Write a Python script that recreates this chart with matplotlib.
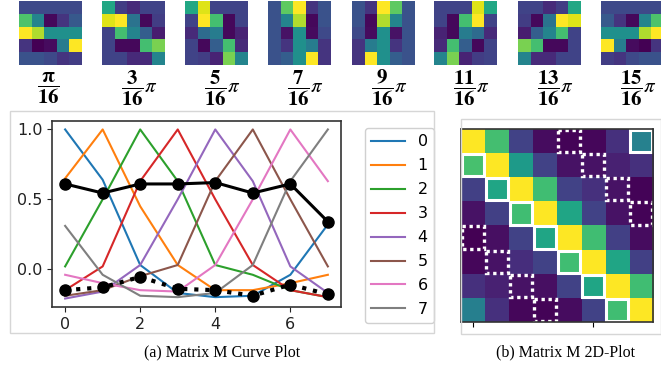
import numpy as np
import matplotlib
matplotlib.use("Agg")
import matplotlib.pyplot as plt
from matplotlib.patches import Rectangle

plt.rcParams['mathtext.fontset'] = 'stix'

W, H = 661, 367

# ---------------- data ----------------
x_idx = [0, 1, 2, 3, 4, 5, 6, 7]
series_labels = ['0', '1', '2', '3', '4', '5', '6', '7']
M = [
    [1.00, 0.64, 0.03, -0.17, -0.20, -0.19, -0.04, 0.32],
    [0.65, 1.00, 0.45, 0.03, -0.15, -0.15, -0.10, -0.04],
    [0.02, 0.50, 1.00, 0.63, 0.03, -0.04, -0.15, -0.20],
    [-0.15, 0.02, 0.63, 1.00, 0.50, 0.03, -0.15, -0.20],
    [-0.21, -0.16, 0.03, 0.50, 1.00, 0.63, 0.02, -0.17],
    [-0.19, -0.15, -0.05, 0.03, 0.63, 1.00, 0.50, 0.02],
    [-0.04, -0.10, -0.15, -0.16, 0.03, 0.50, 1.00, 0.63],
    [0.31, -0.04, -0.19, -0.20, -0.17, 0.03, 0.63, 1.00],
]
black_solid = [0.61, 0.545, 0.61, 0.61, 0.62, 0.545, 0.61, 0.34]
black_dotted = [-0.15, -0.13, -0.055, -0.14, -0.15, -0.19, -0.11, -0.18]

solid_cells = [(0, 7), (1, 0), (2, 1), (3, 2), (4, 3), (5, 4), (6, 5), (7, 6)]
dotted_cells = [(0, 4), (1, 5), (2, 6), (3, 7), (4, 0), (5, 1), (6, 2), (7, 3)]

thumb_labels = [r'$\dfrac{\mathbf{\pi}}{\mathbf{16}}$',
                r'$\dfrac{\mathbf{3}}{\mathbf{16}}\pi$',
                r'$\dfrac{\mathbf{5}}{\mathbf{16}}\pi$',
                r'$\dfrac{\mathbf{7}}{\mathbf{16}}\pi$',
                r'$\dfrac{\mathbf{9}}{\mathbf{16}}\pi$',
                r'$\dfrac{\mathbf{11}}{\mathbf{16}}\pi$',
                r'$\dfrac{\mathbf{13}}{\mathbf{16}}\pi$',
                r'$\dfrac{\mathbf{15}}{\mathbf{16}}\pi$']
thumbs = [
    [[0.22, 0.22, 0.22, 0.22, 0.22],
     [0.72, 0.45, 0.02, 0.15, 0.28],
     [1.00, 0.88, 0.50, 0.50, 0.50],
     [0.15, 0.00, 0.03, 0.42, 1.00],
     [0.25, 0.25, 0.22, 0.15, 0.18]],
    [[0.60, 0.18, 0.12, 0.20, 0.20],
     [0.95, 1.00, 0.38, 0.02, 0.18],
     [0.20, 0.70, 0.45, 0.30, 0.08],
     [0.20, 0.02, 0.02, 0.70, 0.80],
     [0.20, 0.20, 0.12, 0.12, 0.45]],
    [[0.60, 0.95, 0.20, 0.20, 0.20],
     [0.20, 1.00, 0.70, 0.02, 0.20],
     [0.12, 0.35, 0.42, 0.02, 0.10],
     [0.20, 0.02, 0.30, 0.70, 0.12],
     [0.20, 0.18, 0.10, 0.80, 0.45]],
    [[0.25, 0.75, 1.00, 0.15, 0.25],
     [0.25, 0.45, 0.88, 0.02, 0.25],
     [0.25, 0.05, 0.50, 0.03, 0.22],
     [0.25, 0.15, 0.50, 0.42, 0.15],
     [0.25, 0.30, 0.50, 1.00, 0.15]],
    [[0.25, 0.15, 1.00, 0.75, 0.25],
     [0.25, 0.02, 0.88, 0.45, 0.25],
     [0.22, 0.03, 0.50, 0.05, 0.25],
     [0.15, 0.42, 0.50, 0.15, 0.25],
     [0.15, 1.00, 0.50, 0.30, 0.25]],
    [[0.20, 0.20, 0.20, 0.95, 0.60],
     [0.20, 0.02, 0.70, 1.00, 0.20],
     [0.10, 0.02, 0.42, 0.35, 0.12],
     [0.12, 0.70, 0.30, 0.02, 0.20],
     [0.45, 0.80, 0.10, 0.18, 0.20]],
    [[0.20, 0.20, 0.12, 0.18, 0.60],
     [0.18, 0.02, 0.38, 1.00, 0.95],
     [0.08, 0.30, 0.45, 0.70, 0.20],
     [0.80, 0.70, 0.02, 0.02, 0.20],
     [0.45, 0.12, 0.12, 0.20, 0.20]],
    [[0.22, 0.22, 0.22, 0.22, 0.22],
     [0.28, 0.15, 0.02, 0.45, 0.72],
     [0.50, 0.50, 0.50, 0.88, 1.00],
     [1.00, 0.42, 0.03, 0.00, 0.15],
     [0.18, 0.15, 0.22, 0.25, 0.25]],
]
caption_a = '(a) Matrix M Curve Plot'
caption_b = '(b) Matrix M 2D-Plot'

# ---------------- figure ----------------
fig = plt.figure(figsize=(W / 100, H / 100), dpi=100)


def ax_px(x0, y0, x1, y1):
    return fig.add_axes([x0 / W, 1 - y1 / H, (x1 - x0) / W, (y1 - y0) / H])


def frame_px(x0, y0, x1, y1, color='#d6d6d6'):
    fig.add_artist(Rectangle((x0 / W, 1 - y1 / H), (x1 - x0) / W, (y1 - y0) / H,
                             transform=fig.transFigure, fill=False, ec=color, lw=1))


# thumbnails
thumb_x0 = [19, 102, 185, 268, 352, 434, 518, 601]
for k, (tx, mat, lab) in enumerate(zip(thumb_x0, thumbs, thumb_labels)):
    a = ax_px(tx, 1, tx + 63, 65)
    a.imshow(np.array(mat), cmap='viridis', vmin=0, vmax=1, aspect='auto',
             interpolation='nearest')
    a.axis('off')
    cx = tx + 29 if k == 0 else tx + 37
    fig.text(cx / W, 1 - 88 / H, lab, ha='center', va='center', fontsize=15)

# frames
frame_px(10, 111, 434, 333)
frame_px(461, 119, 661, 334)

# line plot
ax = ax_px(52, 121, 341, 307)
colors = ['C%d' % i for i in range(8)]
for i in range(8):
    ax.plot(x_idx, M[i], color=colors[i], lw=1.5, label=series_labels[i])
ax.plot(x_idx, black_solid, color='black', lw=2.2, marker='o', ms=8)
ax.plot(x_idx, black_dotted, color='black', lw=3, ls=':', marker='o', ms=8)
ax.set_xticks([0, 2, 4, 6])
ax.set_yticks([0.0, 0.5, 1.0])
ax.set_yticklabels(['0.0', '0.5', '1.0'])
ax.tick_params(labelsize=11.5, colors='#222222')
for s in ax.spines.values():
    s.set_color('#333333')
    s.set_linewidth(1.2)
ax.legend(loc='upper left', bbox_to_anchor=(365 / W, 1 - 128 / H),
          bbox_transform=fig.transFigure, fontsize=11.5, handlelength=2.1,
          labelspacing=0.56, borderaxespad=0, framealpha=1, edgecolor='#d0d0d0')

# heatmap
hx = ax_px(461, 129, 653, 322)
hx.imshow(np.array(M), cmap='viridis', aspect='auto', interpolation='nearest')
for (r, c) in solid_cells:
    hx.add_patch(Rectangle((c - 0.46, r - 0.46), 0.92, 0.92, fill=False,
                           ec='white', lw=2.2))
for (r, c) in dotted_cells:
    hx.add_patch(Rectangle((c - 0.46, r - 0.46), 0.92, 0.92, fill=False,
                           ec='white', lw=2.4, ls=(0, (1, 1.1))))
hx.set_xticks([0, 5])
hx.set_xticklabels(['', ''])
hx.set_yticks([])
hx.set_xlim(-0.5, 7.5)
hx.set_ylim(7.5, -0.5)
for s in hx.spines.values():
    s.set_color('#333333')
    s.set_linewidth(1.2)

# captions
fig.text(222 / W, 1 - 352 / H, caption_a, ha='center', va='center',
         fontsize=11.5, family='Liberation Serif')
fig.text(565 / W, 1 - 352 / H, caption_b, ha='center', va='center',
         fontsize=11.5, family='Liberation Serif')

fig.savefig('out.png', dpi=100)
